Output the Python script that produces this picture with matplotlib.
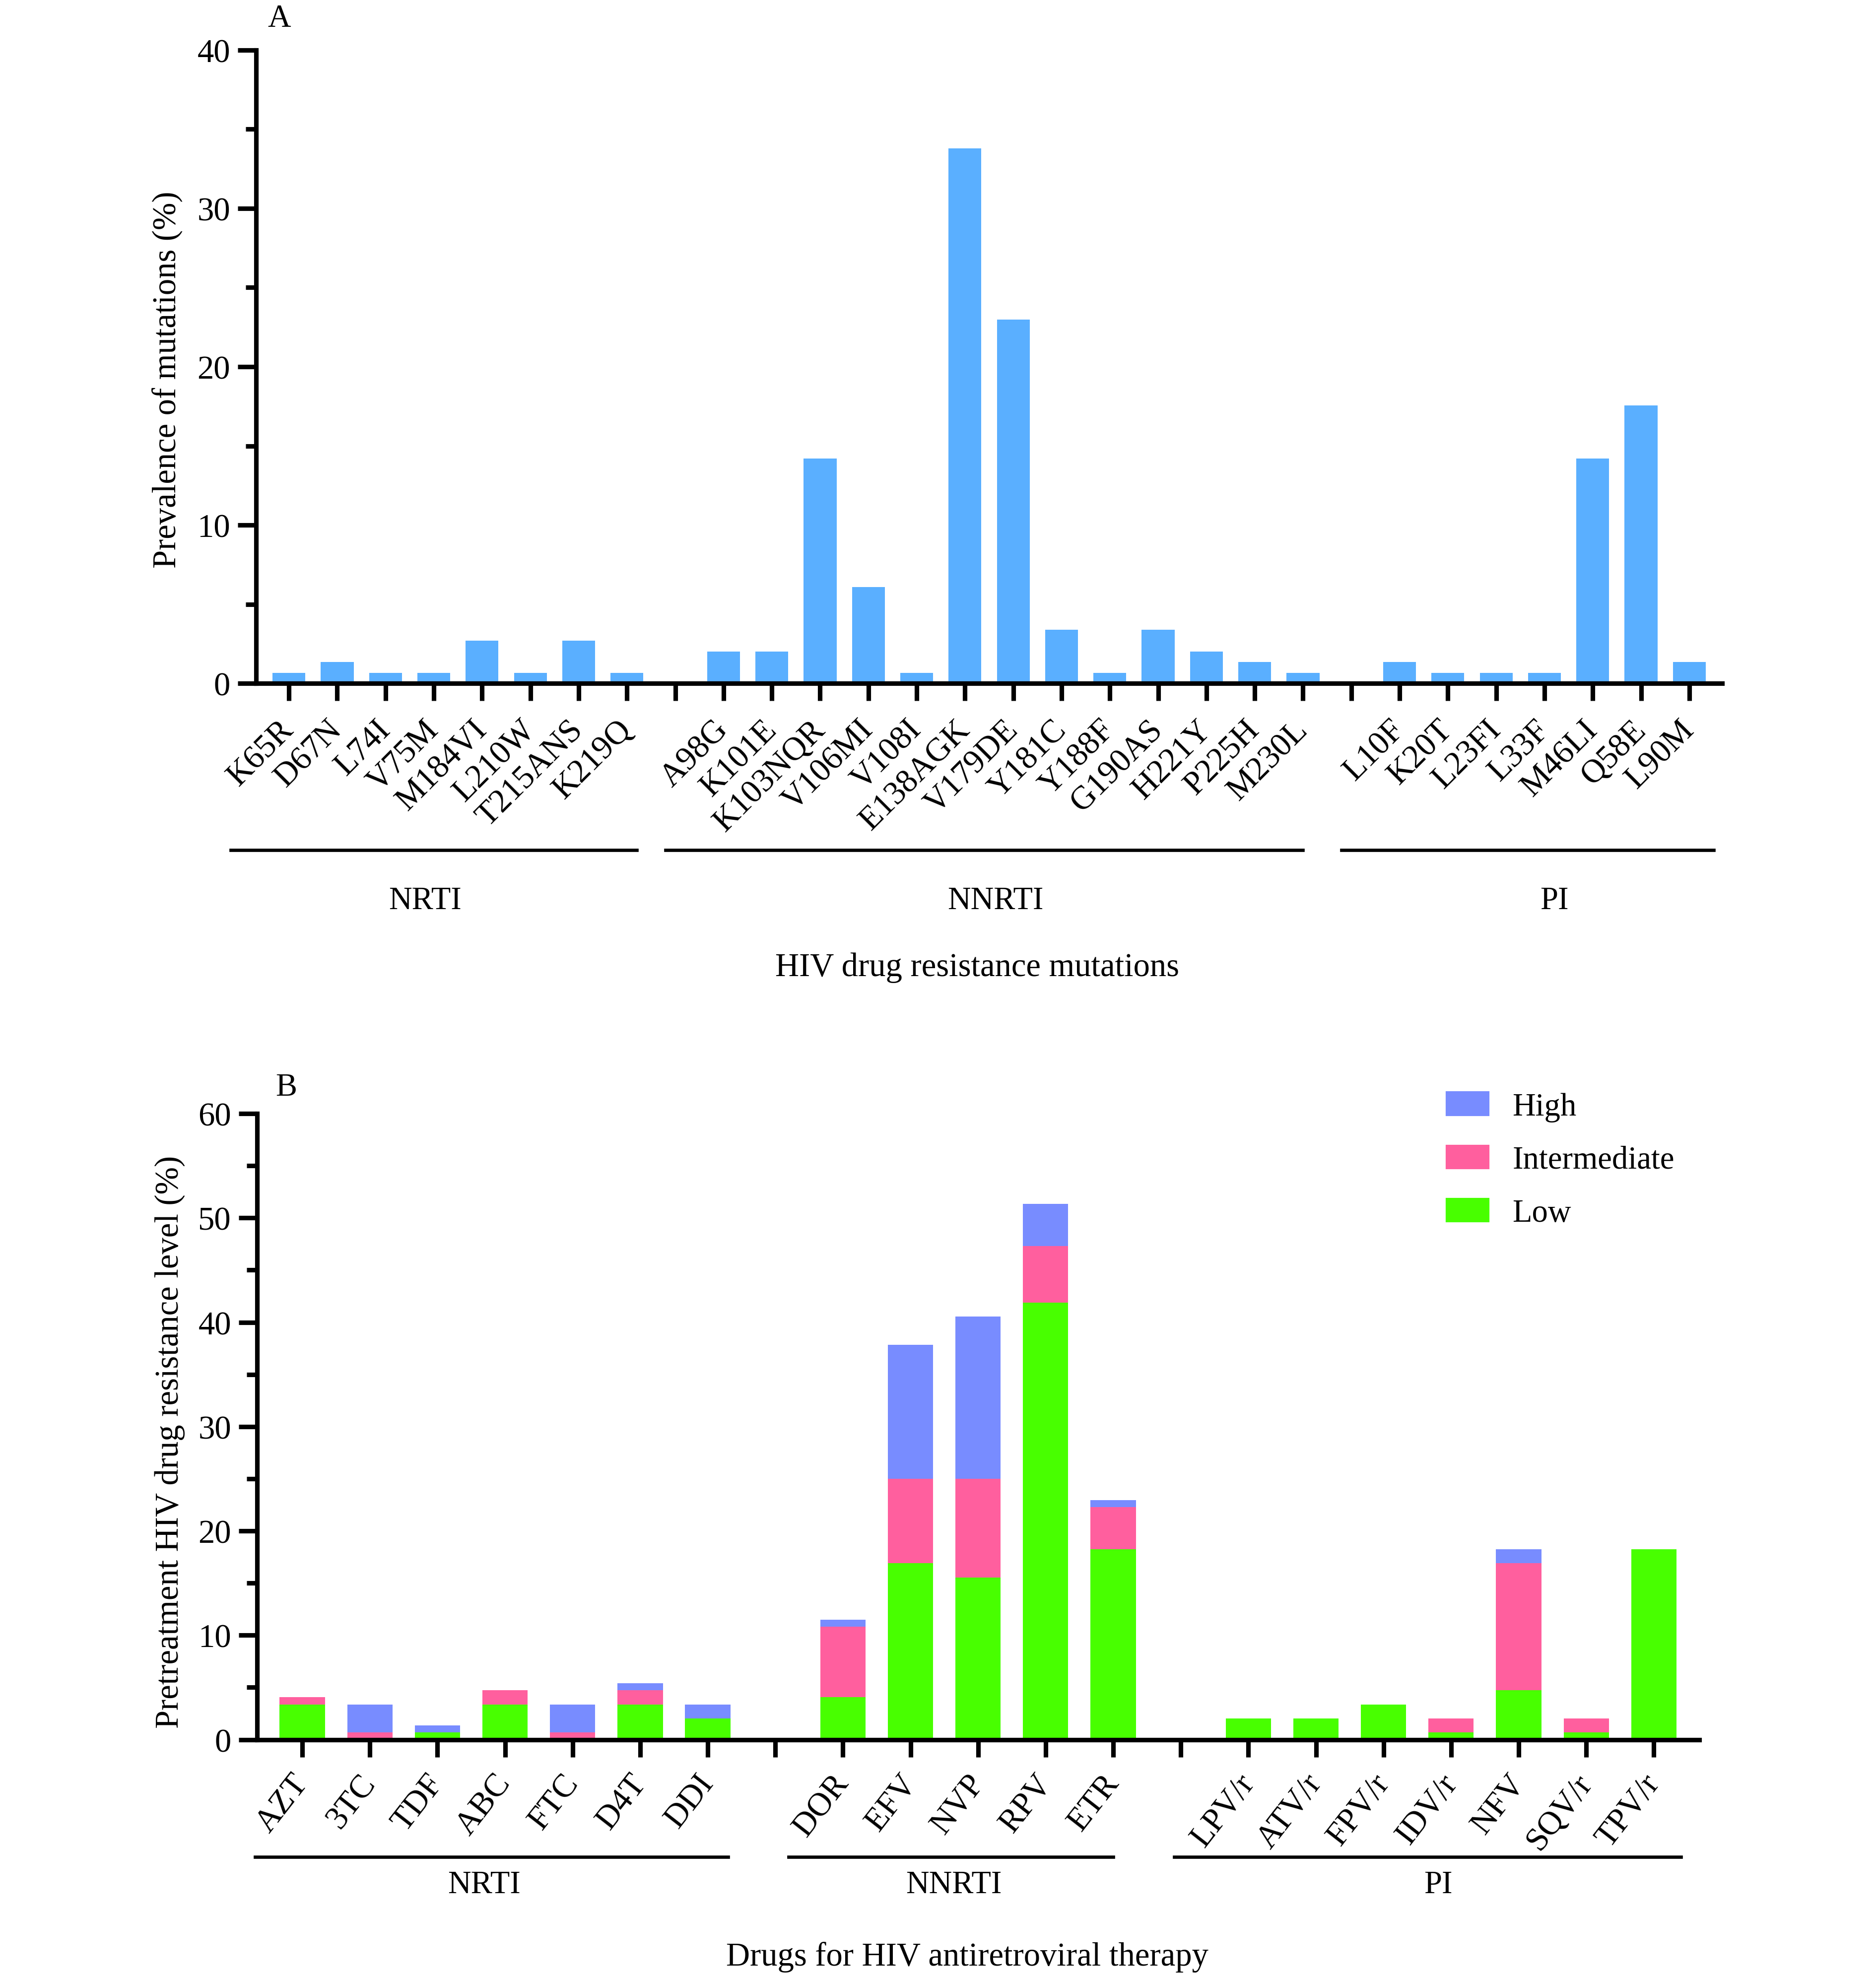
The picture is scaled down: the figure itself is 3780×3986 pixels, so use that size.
import matplotlib
matplotlib.use("Agg")
import matplotlib.pyplot as plt
import matplotlib.transforms as mtransforms
from matplotlib.patches import Patch
import numpy as np

plt.rcParams["font.family"] = ["Liberation Serif", "DejaVu Serif"]
plt.rcParams["font.size"] = 16

# ---- panel A: mutation prevalence (%) ----
nrti_mut = ["K65R", "D67N", "L74I", "V75M", "M184VI", "L210W", "T215ANS", "K219Q"]
nrti_mut_val = [0.68, 1.35, 0.68, 0.68, 2.70, 0.68, 2.70, 0.68]
nnrti_mut = ["A98G", "K101E", "K103NQR", "V106MI", "V108I", "E138AGK", "V179DE",
             "Y181C", "Y188F", "G190AS", "H221Y", "P225H", "M230L"]
nnrti_mut_val = [2.03, 2.03, 14.19, 6.08, 0.68, 33.78, 22.97, 3.38, 0.68, 3.38, 2.03, 1.35, 0.68]
pi_mut = ["L10F", "K20T", "L23FI", "L33F", "M46LI", "Q58E", "L90M"]
pi_mut_val = [1.35, 0.68, 0.68, 0.68, 14.19, 17.57, 1.35]

# ---- panel B: pretreatment resistance level (%) ----
nrti_drug = ["AZT", "3TC", "TDF", "ABC", "FTC", "D4T", "DDI"]
nrti_low = [3.38, 0.00, 0.68, 3.38, 0.00, 3.38, 2.03]
nrti_int = [0.68, 0.68, 0.00, 1.35, 0.68, 1.35, 0.00]
nrti_high = [0.00, 2.70, 0.68, 0.00, 2.70, 0.68, 1.35]
nnrti_drug = ["DOR", "EFV", "NVP", "RPV", "ETR"]
nnrti_low = [4.05, 16.89, 15.54, 41.89, 18.24]
nnrti_int = [6.76, 8.11, 9.46, 5.41, 4.05]
nnrti_high = [0.68, 12.84, 15.54, 4.05, 0.68]
pi_drug = ["LPV/r", "ATV/r", "FPV/r", "IDV/r", "NFV", "SQV/r", "TPV/r"]
pi_low = [2.03, 2.03, 3.38, 0.68, 4.73, 0.68, 18.24]
pi_int = [0.00, 0.00, 0.00, 1.35, 12.16, 1.35, 0.00]
pi_high = [0.00, 0.00, 0.00, 0.00, 1.35, 0.00, 0.00]

C_A = "#5AAFFF"
C_HIGH = "#788CFF"
C_INT = "#FF5F9E"
C_LOW = "#48FF00"


def layout(groups):
    """positions with one empty slot between groups"""
    pos, spans, x = [], [], 0
    for g in groups:
        p = list(range(x, x + len(g)))
        pos.append(p)
        spans.append((p[0], p[-1]))
        x += len(g) + 1
    return pos, spans, pos[-1][-1]


def style_axes(ax, ymax, xlim):
    for s in ["top", "right"]:
        ax.spines[s].set_visible(False)
    for s in ["left", "bottom"]:
        ax.spines[s].set_linewidth(2.2)
    ax.set_ylim(0, ymax)
    ax.set_xlim(*xlim)
    ax.set_yticks(np.arange(0, ymax + 1, 10))
    ax.set_yticks(np.arange(5, ymax, 10), minor=True)
    ax.tick_params(axis="y", which="major", length=9, width=2.2, labelsize=16)
    ax.tick_params(axis="y", which="minor", length=5, width=2.2)
    ax.tick_params(axis="x", which="major", length=8.5, width=2.2, labelsize=16, pad=4)


def group_lines(ax, spans, names, y_line, y_text, left_off, right_off, text_off):
    tr = mtransforms.blended_transform_factory(ax.transData, ax.transAxes)
    for (a, b), name, lo, ro, to in zip(spans, names, left_off, right_off, text_off):
        ax.plot([a - lo, b + ro], [y_line, y_line], color="black", lw=1.6,
                transform=tr, clip_on=False)
        ax.text((a + b) / 2 + to, y_text, name, transform=tr, ha="center",
                va="center", fontsize=15.5)


fig = plt.figure(figsize=(12.6, 13.29), dpi=300)

# ---------------- panel A ----------------
axA = fig.add_axes([0.1365, 0.6543, 0.7815, 0.3202])
pos, spansA, last = layout([nrti_mut, nnrti_mut, pi_mut])
xs = pos[0] + pos[1] + pos[2]
vals = nrti_mut_val + nnrti_mut_val + pi_mut_val
axA.bar(xs, vals, width=0.68, color=C_A, zorder=2)
style_axes(axA, 40, (-0.68, last + 0.68))
ticks = list(range(0, last + 1))
labels = [""] * len(ticks)
for p, lab in zip(xs, nrti_mut + nnrti_mut + pi_mut):
    labels[p] = lab
axA.set_xticks(ticks)
axA.set_xticklabels(labels, rotation=45, ha="right", va="center",
                    rotation_mode="anchor")
for t in axA.get_xticklabels():
    t.set_y(-0.025)
axA.set_ylabel("Prevalence of mutations (%)", fontsize=16)
axA.yaxis.set_label_coords(-0.05, 0.48)
group_lines(axA, spansA, ["NRTI", "NNRTI", "PI"], -0.263, -0.343,
            [1.2, 1.2, 1.2], [0.2, 0.0, 0.5], [-0.68, -0.37, 0.21])
axA.text(0.492, -0.448, "HIV drug resistance mutations", transform=axA.transAxes,
         ha="center", va="center", fontsize=16)
axA.text(0.008, 1.05, "A", transform=axA.transAxes, ha="left", va="center",
         fontsize=15.5)

# ---------------- panel B ----------------
axB = fig.add_axes([0.137, 0.1205, 0.7687, 0.3164])
posB, spansB, lastB = layout([nrti_drug, nnrti_drug, pi_drug])
xb = posB[0] + posB[1] + posB[2]
low = np.array(nrti_low + nnrti_low + pi_low)
mid = np.array(nrti_int + nnrti_int + pi_int)
high = np.array(nrti_high + nnrti_high + pi_high)
axB.bar(xb, low, width=0.67, color=C_LOW, zorder=2)
axB.bar(xb, mid, width=0.67, bottom=low, color=C_INT, zorder=2)
axB.bar(xb, high, width=0.67, bottom=low + mid, color=C_HIGH, zorder=2)
style_axes(axB, 60, (-0.67, lastB + 0.67))
ticksB = list(range(0, lastB + 1))
labelsB = [""] * len(ticksB)
for p, lab in zip(xb, nrti_drug + nnrti_drug + pi_drug):
    labelsB[p] = lab
axB.set_xticks(ticksB)
axB.set_xticklabels(labelsB, rotation=52, ha="right", va="center",
                    rotation_mode="anchor")
for t in axB.get_xticklabels():
    t.set_y(-0.02)
axB.set_ylabel("Pretreatment HIV drug resistance level (%)", fontsize=16)
axB.yaxis.set_label_coords(-0.05, 0.476)
group_lines(axB, spansB, ["NRTI", "NNRTI", "PI"], -0.1875, -0.232,
            [0.7, 0.8, 1.1], [0.3, 0.0, 0.4], [-0.31, -0.36, -0.19])
axB.text(0.4926, -0.347, "Drugs for HIV antiretroviral therapy",
         transform=axB.transAxes, ha="center", va="center", fontsize=16)
axB.text(0.013, 1.042, "B", transform=axB.transAxes, ha="left", va="center",
         fontsize=15.5)

handles = [Patch(color=C_HIGH, label="High"),
           Patch(color=C_INT, label="Intermediate"),
           Patch(color=C_LOW, label="Low")]
axB.legend(handles=handles, loc="upper left", bbox_to_anchor=(0.825, 1.034),
           frameon=False, fontsize=15.5, handlelength=1.3, handleheight=0.7,
           handletextpad=0.75, labelspacing=0.74, borderpad=0, borderaxespad=0)

fig.savefig("out.png", dpi=300, facecolor="white")
